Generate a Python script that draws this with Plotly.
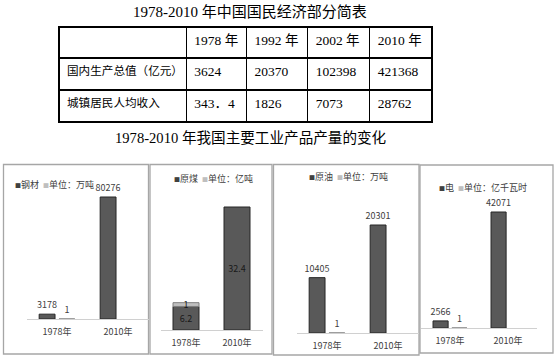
import plotly.graph_objects as go

W, H = 560, 358

# ---------------- data ----------------
table_title = "1978-2010 年中国国民经济部分简表"
chart_title = "1978-2010 年我国主要工业产品产量的变化"
table_years = ["1978 年", "1992 年", "2002 年", "2010 年"]
row_labels = ["国内生产总值（亿元）", "城镇居民人均收入"]
gdp = [3624, 20370, 102398, 421368]
income = [343.4, 1826, 7073, 28762]

years = ["1978年", "2010年"]
steel = [3178, 80276]
coal = [6.2, 32.4]
oil = [10405, 20301]
power = [2566, 42071]
unit_marker = [1, None]

product_names = ["钢材", "原煤", "原油", "电"]
unit_names = ["单位：万吨", "单位：亿吨", "单位：万吨", "单位：亿千瓦时"]
panel_values = [steel, coal, oil, power]

# ---------------- style / layout ----------------
SERIF = "Liberation Serif, Noto Sans CJK SC"
SANS = "Noto Sans CJK SC, Noto Sans"
DARK = "#595959"
LIGHT = "#bfbfbf"
TXT = "#404040"

def fmt_table(v):
    return f"{v:g}".replace(".", "．")

def fmt_bar(v):
    return f"{v:g}"

def nb(s):
    return s.replace(" ", "\u00a0")

def px_x(p):
    return p / W

def px_y(p):
    return 1 - p / H

# pixel geometry of each small chart
panel_geo = [
    dict(x=(26.5, 148.5), base=319, top=197, border=(3.5, 164.5, 148.5, 354), legend=(13, 184), stacked=False),
    dict(x=(160.5, 262.5), base=330, top=207, border=(150, 164.5, 272, 354), legend=(172, 178), stacked=True),
    dict(x=(296.5, 418.5), base=333, top=225, border=(273.5, 164.5, 419, 355), legend=(307, 177), stacked=False),
    dict(x=(421, 537), base=328, top=212, border=(420, 165, 553, 353), legend=(437, 187), stacked=False),
]
PLOT_TOP = 168

fig = go.Figure()

# ---------------- table ----------------
cell_cols = [row_labels] + [[fmt_table(g), fmt_table(i)] for g, i in zip(gdp, income)]
fig.add_trace(go.Table(
    domain=dict(x=[px_x(59), px_x(432)], y=[px_y(127), px_y(27)]),
    columnwidth=[127, 60, 61, 62, 62],
    header=dict(values=[""] + [nb(y) for y in table_years], height=31, align="left",
                line=dict(color="black", width=1.2), fill_color="white",
                font=dict(family=SERIF, size=13.5, color="black")),
    cells=dict(values=cell_cols, height=32, align="left",
               line=dict(color="black", width=1.2), fill_color="white",
               font=dict(family=SERIF, size=[11.6, 13.5, 13.5, 13.5, 13.5], color="black")),
))

layout_axes = {}
annotations = [
    dict(text=table_title, x=px_x(250), y=px_y(12), xref="paper", yref="paper",
         xanchor="center", yanchor="middle",
         showarrow=False, font=dict(family=SERIF, size=15, color="black")),
    dict(text=chart_title, x=px_x(251), y=px_y(138), xref="paper", yref="paper",
         xanchor="center", yanchor="middle",
         showarrow=False, font=dict(family=SERIF, size=14.6, color="black")),
]
shapes = []

for k, (vals, geo) in enumerate(zip(panel_values, panel_geo)):
    n = "" if k == 0 else str(k + 1)
    xa, ya = "x" + n, "y" + n
    unit_text = [None if u is None else fmt_bar(u) for u in unit_marker]
    if geo["stacked"]:
        fig.add_trace(go.Bar(
            x=years, y=vals, xaxis=xa, yaxis=ya, name=product_names[k],
            width=0.51, offset=-0.255,
            marker=dict(color=DARK, line=dict(color="#262626", width=1)),
            text=[fmt_bar(v) for v in vals], textposition="inside", insidetextanchor="middle",
            textangle=0,
            insidetextfont=dict(family=SANS, size=9, color="#1a1a1a"),
            cliponaxis=False, showlegend=False, hoverinfo="skip"))
        fig.add_trace(go.Bar(
            x=years, y=unit_marker, base=vals, xaxis=xa, yaxis=ya, name=unit_names[k],
            width=0.51, offset=-0.255,
            marker=dict(color=LIGHT, line=dict(color="#7f7f7f", width=1)),
            text=unit_text, textposition="inside", insidetextanchor="middle", textangle=0,
            insidetextfont=dict(family=SANS, size=9, color="#1a1a1a"),
            cliponaxis=False, showlegend=False, hoverinfo="skip"))
    else:
        fig.add_trace(go.Bar(
            x=years, y=vals, xaxis=xa, yaxis=ya, name=product_names[k],
            marker=dict(color=DARK, line=dict(color="#262626", width=1)),
            text=[fmt_bar(v) for v in vals], textposition="outside", textangle=0,
            outsidetextfont=dict(family=SANS, size=9, color=TXT),
            cliponaxis=False, showlegend=False, hoverinfo="skip"))
        fig.add_trace(go.Bar(
            x=years, y=unit_marker, xaxis=xa, yaxis=ya, name=unit_names[k],
            marker=dict(color=LIGHT, line=dict(color="#7f7f7f", width=1)),
            text=unit_text, textposition="outside", textangle=0,
            outsidetextfont=dict(family=SANS, size=9, color=TXT),
            cliponaxis=False, showlegend=False, hoverinfo="skip"))

    top_val = max(vals) * (geo["base"] - PLOT_TOP) / (geo["base"] - geo["top"])
    layout_axes["xaxis" + n] = dict(
        domain=[px_x(geo["x"][0]), px_x(geo["x"][1])], anchor=ya,
        type="category", categoryarray=years, range=[-0.5, 1.5],
        showline=True, linecolor="#d0d0d0", linewidth=1, ticks="",
        showgrid=False, zeroline=False, ticklabelstandoff=4,
        tickfont=dict(family=SANS, size=9, color=TXT), fixedrange=True)
    layout_axes["yaxis" + n] = dict(
        domain=[px_y(geo["base"]), px_y(PLOT_TOP)], anchor=xa,
        range=[0, top_val], visible=False, showgrid=False, zeroline=False,
        fixedrange=True)

    lx, ly = geo["legend"]
    legend_text = (f"<span style='color:#404040;font-size:6px'>■</span>{product_names[k]}"
                   f"  <span style='color:{LIGHT};font-size:6px'>■</span>{unit_names[k]}")
    annotations.append(dict(text=legend_text, x=px_x(lx), y=px_y(ly), xref="paper", yref="paper",
                            xanchor="left", yanchor="middle", showarrow=False,
                            font=dict(family=SANS, size=9, color=TXT)))

    bx0, by0, bx1, by1 = geo["border"]
    shapes.append(dict(type="rect", xref="paper", yref="paper",
                       x0=px_x(bx0), x1=px_x(bx1), y0=px_y(by1), y1=px_y(by0),
                       line=dict(color="#a6a6a6", width=1.3), fillcolor="rgba(0,0,0,0)",
                       layer="below"))

fig.update_layout(
    width=W, height=H, margin=dict(l=0, r=0, t=0, b=0),
    paper_bgcolor="white", plot_bgcolor="rgba(0,0,0,0)",
    barmode="group", bargap=0.35, bargroupgap=0.2,
    uniformtext=dict(minsize=9, mode="show"),
    showlegend=False, annotations=annotations, shapes=shapes,
    **layout_axes,
)

fig.write_html("out.html", config={"displayModeBar": False},
               post_script="document.body.style.margin='0';document.body.style.overflow='hidden';")
